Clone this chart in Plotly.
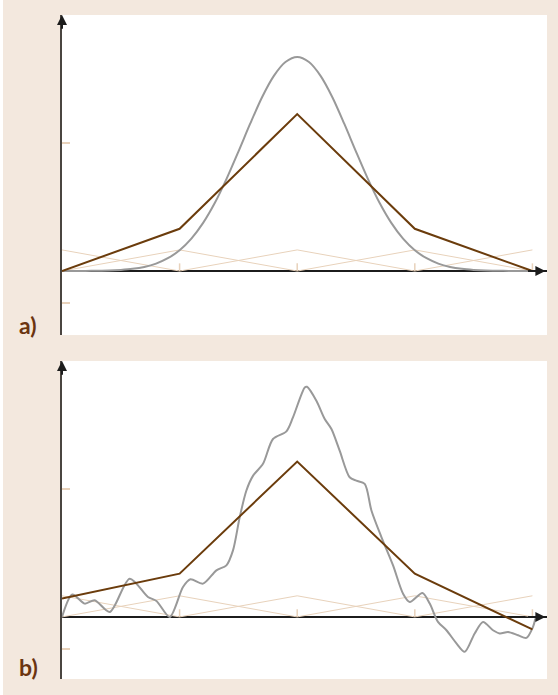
import plotly.graph_objects as go

# ---------------- data ----------------
nodes = [0, 1, 2, 3, 4]
hat_height = 0.165
interp_a = [0.0, 0.33, 1.226, 0.33, 0.0]
interp_b = [0.143, 0.338, 1.214, 0.338, -0.098]

curve_a_x = [0.0, 0.1, 0.2, 0.3, 0.4, 0.5, 0.6, 0.7, 0.8, 0.9, 1.0,
             1.1, 1.2, 1.3, 1.4, 1.5, 1.6, 1.7, 1.8, 1.9, 2.0,
             2.1, 2.2, 2.3, 2.4, 2.5, 2.6, 2.7, 2.8, 2.9, 3.0,
             3.1, 3.2, 3.3, 3.4, 3.5, 3.6, 3.7, 3.8, 3.9, 4.0]
curve_a_y = [0.000, 0.000, 0.001, 0.002, 0.004, 0.009, 0.017, 0.032, 0.058, 0.100, 0.162,
             0.253, 0.376, 0.533, 0.722, 0.933, 1.151, 1.356, 1.523, 1.633, 1.672,
             1.633, 1.523, 1.356, 1.151, 0.933, 0.722, 0.533, 0.376, 0.253, 0.162,
             0.100, 0.058, 0.032, 0.017, 0.009, 0.004, 0.002, 0.001, 0.000, 0.000]

curve_b_x = [0.0, 0.088, 0.193, 0.278, 0.406, 0.576, 0.731, 0.803, 0.916, 1.029,
             1.092, 1.199, 1.313, 1.398, 1.454, 1.511, 1.568, 1.625, 1.709, 1.794,
             1.908, 1.964, 2.064, 2.083, 2.163, 2.234, 2.291, 2.361, 2.446, 2.503,
             2.574, 2.631, 2.716, 2.815, 2.900, 2.957, 3.065, 3.127, 3.197, 3.269,
             3.354, 3.424, 3.509, 3.580, 3.665, 3.722, 3.793, 3.878, 3.949, 4.005, 4.025]
curve_b_y = [0.0, 0.175, 0.104, 0.130, 0.039, 0.299, 0.156, 0.125, 0.000, 0.234,
             0.294, 0.260, 0.364, 0.403, 0.520, 0.779, 0.988, 1.104, 1.196, 1.390,
             1.450, 1.559, 1.793, 1.798, 1.689, 1.546, 1.468, 1.299, 1.091, 1.065,
             1.040, 0.832, 0.624, 0.403, 0.182, 0.117, 0.187, 0.104, -0.039, -0.104,
             -0.207, -0.273, -0.129, -0.039, -0.104, -0.129, -0.117, -0.143, -0.164, -0.078, -0.013]

x_ticks = [1, 2, 3, 4]
y_ticks = [-0.5, -0.25, 1, 2]
x_range = [0, 4.124]
y_range_a = [-0.5, 2.0]
y_range_b = [-0.485, 2.0]

# ---------------- style ----------------
BEIGE_BG = "#f3e8de"
HAT = "#e8d2bb"
BROWN = "#6b3c0c"
GRAY = "#999999"
AXIS_DARK = "#1c1c1c"
YAXIS = "#4a4540"
LABEL = "#6b3410"

fig = go.Figure()

panels = [("x", "y", interp_a, curve_a_x, curve_a_y),
          ("x2", "y2", interp_b, curve_b_x, curve_b_y)]

for xa, ya, interp, cx, cy in panels:
    # hat basis functions
    for k in nodes:
        hx, hy = [], []
        for xv, yv in [(k - 1, 0.0), (k, hat_height), (k + 1, 0.0)]:
            if nodes[0] <= xv <= nodes[-1]:
                hx.append(xv)
                hy.append(yv)
        fig.add_trace(go.Scatter(x=hx, y=hy, mode="lines", xaxis=xa, yaxis=ya,
                                 line=dict(color=HAT, width=1), showlegend=False,
                                 hoverinfo="skip"))
    # smooth function
    fig.add_trace(go.Scatter(x=cx, y=cy, mode="lines", xaxis=xa, yaxis=ya,
                             line=dict(color=GRAY, width=2, shape="spline", smoothing=0.8),
                             showlegend=False))
    # piecewise linear interpolant
    fig.add_trace(go.Scatter(x=nodes, y=interp, mode="lines", xaxis=xa, yaxis=ya,
                             line=dict(color=BROWN, width=2), showlegend=False))

    # x tick marks on the zero axis
    for t in x_ticks:
        fig.add_shape(type="line", xref=xa, yref=ya, x0=t, x1=t, y0=0, y1=0.06,
                      line=dict(color=HAT, width=1.5))

axis_x_common = dict(range=x_range, showgrid=False, zeroline=False, showline=False,
                     showticklabels=False, ticks="", fixedrange=True)
axis_y_common = dict(showgrid=False, zeroline=True,
                     zerolinecolor=AXIS_DARK, zerolinewidth=2,
                     showline=True, linecolor=YAXIS, linewidth=2.5,
                     tickmode="array", tickvals=y_ticks, ticks="inside",
                     ticklen=8, tickwidth=2, tickcolor=HAT,
                     showticklabels=False, fixedrange=True)

annotations = []
for xa, ya, yr in [("x", "y", y_range_a), ("x2", "y2", y_range_b)]:
    # y-axis arrow head
    annotations.append(dict(x=0, y=yr[1], ax=0, ay=yr[1] - 0.12,
                            xref=xa, yref=ya, axref=xa, ayref=ya, text="",
                            showarrow=True, arrowhead=2, arrowsize=1, arrowwidth=2,
                            arrowcolor=AXIS_DARK, standoff=0))
    # x-axis arrow head
    annotations.append(dict(x=4.11, y=0, ax=3.95, ay=0,
                            xref=xa, yref=ya, axref=xa, ayref=ya, text="",
                            showarrow=True, arrowhead=2, arrowsize=1, arrowwidth=2,
                            arrowcolor=AXIS_DARK, standoff=0))

annotations.append(dict(x=-0.0701, y=0.533, xref="paper", yref="paper", text="<b>a)</b>",
                        showarrow=False, xanchor="center", yanchor="middle",
                        font=dict(family="Lato", size=23, color=LABEL)))
annotations.append(dict(x=-0.0701, y=0.018, xref="paper", yref="paper", text="<b>b)</b>",
                        showarrow=False, xanchor="center", yanchor="middle",
                        font=dict(family="Lato", size=23, color=LABEL)))

fig.add_shape(type="rect", xref="paper", yref="paper", x0=-0.1278, x1=-0.1216,
              y0=-0.03, y1=1.03, fillcolor="white", line=dict(width=0), layer="below")

fig.update_layout(
    width=558, height=695,
    margin=dict(l=62, r=11, t=15, b=16),
    paper_bgcolor=BEIGE_BG, plot_bgcolor="white",
    xaxis=dict(domain=[0, 1], anchor="y", **axis_x_common),
    yaxis=dict(domain=[0.518, 1.0], anchor="x", range=y_range_a, **axis_y_common),
    xaxis2=dict(domain=[0, 1], anchor="y2", **axis_x_common),
    yaxis2=dict(domain=[0.0, 0.479], anchor="x2", range=y_range_b, **axis_y_common),
    annotations=annotations,
    showlegend=False,
    hovermode=False,
)

fig.write_html("out.html",
               config={"displayModeBar": False, "staticPlot": True},
               post_script="document.body.style.margin='0px';document.body.style.overflow='hidden';")
